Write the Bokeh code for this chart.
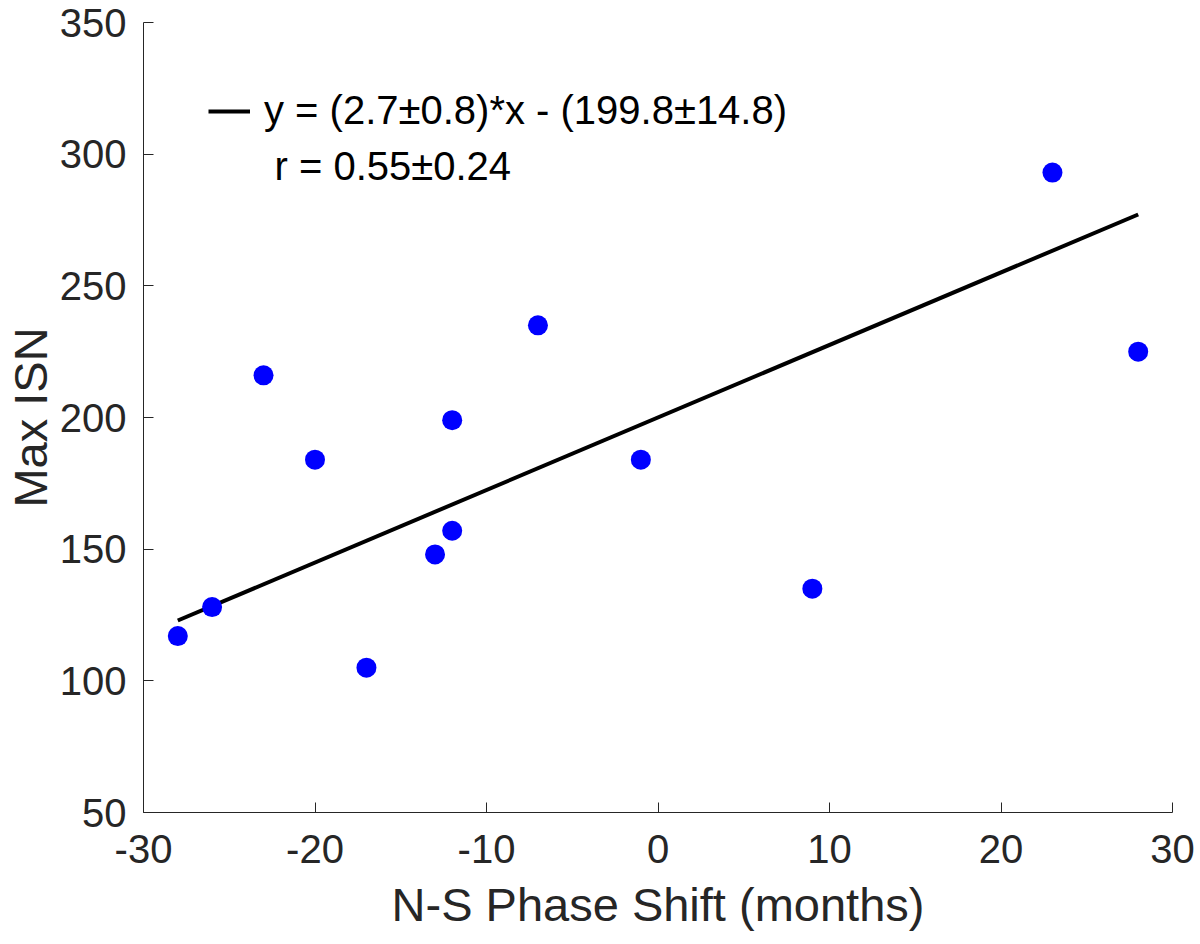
from bokeh.plotting import figure
from bokeh.models import (ColumnDataSource, Range1d, FixedTicker, Legend, LegendItem,
                          Label, PrintfTickFormatter)
from bokeh.embed import file_html
from bokeh.resources import INLINE

## data ##

phase_shift = [-28, -26, -23, -20, -17, -13, -12, -12, -7, -1, 9, 23, 28]
max_isn = [117, 128, 216, 184, 105, 148, 157, 199, 235, 184, 135, 293, 225]

# end points of the fitted line, as drawn
fit_x = [-28, 28]
fit_y = [122.9, 277.1]

x_ticks = [-30, -20, -10, 0, 10, 20, 30]
y_ticks = [50, 100, 150, 200, 250, 300, 350]

fit_label = "y = (2.7\u00b10.8)*x - (199.8\u00b114.8)"
r_label = "r = 0.55\u00b10.24"

FONT = "Liberation Sans"
INK = "#262626"


def make_plot():
    p = figure(width=1200, height=944,
               x_range=Range1d(-30, 30), y_range=Range1d(50, 350),
               output_backend="svg", toolbar_location=None,
               min_border_left=143, min_border_right=28,
               min_border_top=22, min_border_bottom=132)
    p.title.visible = False
    p.outline_line_color = None
    p.grid.visible = False
    p.background_fill_color = "white"
    p.border_fill_color = "white"

    source = ColumnDataSource({'x': phase_shift, 'y': max_isn})
    fit = ColumnDataSource({'x': fit_x, 'y': fit_y})

    fit_line = p.line(x='x', y='y', source=fit, line_color="black", line_width=4)
    p.scatter(x='x', y='y', source=source, size=20, fill_color="#0000ff",
              line_color=None)

    for ax, ticks in ((p.xaxis, x_ticks), (p.yaxis, y_ticks)):
        ax.ticker = FixedTicker(ticks=ticks)
        ax.formatter = PrintfTickFormatter(format="%d")
        ax.minor_tick_line_color = None
        ax.major_tick_in = 10
        ax.major_tick_out = 0
        ax.axis_line_color = INK
        ax.major_tick_line_color = INK
        ax.major_label_text_color = INK
        ax.major_label_text_font = FONT
        ax.major_label_text_font_size = "40px"
        ax.axis_label_text_color = INK
        ax.axis_label_text_font = FONT
        ax.axis_label_text_font_size = "47px"
        ax.axis_label_text_font_style = "normal"

    p.xaxis.axis_label = "N-S Phase Shift (months)"
    p.yaxis.axis_label = "Max ISN"
    p.xaxis.major_label_standoff = 22
    p.xaxis.axis_label_standoff = 12
    p.yaxis.major_label_standoff = 17
    p.yaxis.axis_label_standoff = 0

    legend = Legend(items=[LegendItem(label=fit_label, renderers=[fit_line])],
                    location=(65, 679), padding=0, margin=0,
                    glyph_width=42, label_standoff=14,
                    border_line_color=None, background_fill_alpha=0,
                    label_text_font=FONT, label_text_font_size="40px",
                    label_text_color="black")
    p.add_layout(legend)

    r_text = Label(x=131, y=647, x_units="screen", y_units="screen",
                   text=r_label, text_font=FONT, text_font_size="40px",
                   text_color="black", text_baseline="middle")
    p.add_layout(r_text)
    return p


p = make_plot()
open("out.html", "w").write(file_html(p, INLINE))
